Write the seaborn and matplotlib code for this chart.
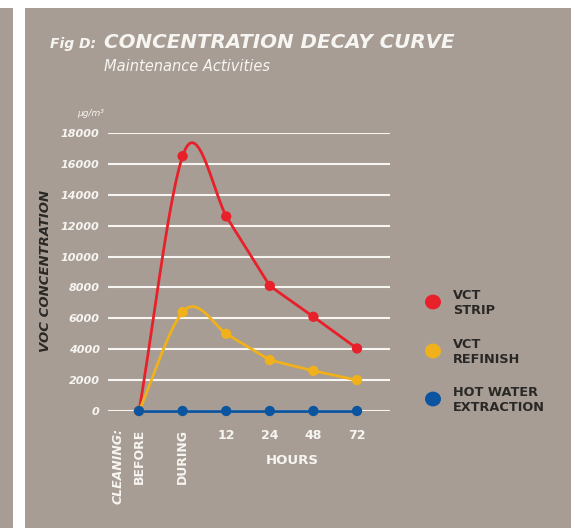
import numpy as np
import pandas as pd
import matplotlib
matplotlib.use("Agg")
import matplotlib.pyplot as plt
import seaborn as sns
from matplotlib.patches import Rectangle, Circle

stages = ['BEFORE', 'DURING', '12', '24', '48', '72']
vct_strip = [0, 16500, 12600, 8100, 6100, 4050]
vct_refinish = [0, 6400, 5000, 3300, 2600, 2000]
hot_water = [0, 0, 0, 0, 0, 0]
y_ticks = [0, 2000, 4000, 6000, 8000, 10000, 12000, 14000, 16000, 18000]
series_names = ['VCT\nSTRIP', 'VCT\nREFINISH', 'HOT WATER\nEXTRACTION']
colors = ['#e8202a', '#f0b11a', '#0b55a0']

bg = '#a79d94'
dark = '#2a2826'
light = '#f7f5f2'


def smooth_line(y, n_curved=2, tension=1.35, steps=60):
    # cardinal (Catmull-Rom like) curve for the first segments,
    # straight segments for the rest
    y = np.asarray(y, dtype=float)
    k = len(y)
    m = np.zeros(k)
    m[0] = y[1] - y[0]
    m[-1] = y[-1] - y[-2]
    for i in range(1, k - 1):
        m[i] = tension * (y[i + 1] - y[i - 1]) / 2
    t = np.linspace(0, 1, steps)
    h00 = (1 + 2 * t) * (1 - t) ** 2
    h10 = t * (1 - t) ** 2
    h01 = t ** 2 * (3 - 2 * t)
    h11 = t ** 2 * (t - 1)
    xs, ys = [], []
    for i in range(k - 1):
        if i < n_curved:
            xs.extend(i + t)
            ys.extend(h00 * y[i] + h10 * m[i] + h01 * y[i + 1] + h11 * m[i + 1])
        else:
            xs.extend([i, i + 1])
            ys.extend([y[i], y[i + 1]])
    return np.array(xs), np.array(ys)


sns.set_style("white")
plt.rcParams['font.family'] = ['DejaVu Sans']

fig = plt.figure(figsize=(5.71, 5.28), dpi=100)
fig.patch.set_facecolor('white')
fig.patches.append(Rectangle((0, 0), 13 / 571, 1 - 8 / 528, transform=fig.transFigure,
                             facecolor=bg, edgecolor='none', zorder=-5))
fig.patches.append(Rectangle((25 / 571, 0), 1, 1 - 8 / 528, transform=fig.transFigure,
                             facecolor=bg, edgecolor='none', zorder=-5))

ax = fig.add_axes([108 / 571, 1 - 411 / 528, 282 / 571, 278 / 528])
ax.set_facecolor('none')

x_pos = np.arange(len(stages))
for vals, col in zip([vct_strip, vct_refinish, hot_water], colors):
    xs, ys = smooth_line(vals)
    sns.lineplot(x=xs, y=ys, color=col, linewidth=2.0, ax=ax, zorder=3,
                 clip_on=False, estimator=None, sort=False)
    sns.scatterplot(x=x_pos, y=vals, color=col, s=55, edgecolor='none',
                    ax=ax, zorder=4, clip_on=False)

ax.set_xlim(-0.711, 5.757)
ax.set_ylim(0, 18000)
ax.set_yticks(y_ticks)
ax.set_yticklabels([str(v) for v in y_ticks], fontsize=8, fontweight='bold',
                   fontstyle='italic', color=light)
ax.yaxis.grid(True, color=light, linewidth=1.5)
ax.set_axisbelow(True)
ax.set_xticks(x_pos)
ax.set_xticklabels(stages, fontsize=9, fontweight='bold', color=light)
for lbl in ax.get_xticklabels()[:2]:
    lbl.set_rotation(90)
ax.tick_params(axis='x', length=0, pad=13)
ax.tick_params(axis='y', length=0, pad=6)
for s in ax.spines.values():
    s.set_visible(False)
ax.set_xlabel('')
ax.set_ylabel('')

# titles
fig.text(50 / 571, 1 - 48 / 528, 'Fig D:', fontsize=10, fontweight='bold',
         fontstyle='italic', color=light, va='baseline')
fig.text(104 / 571, 1 - 48 / 528, 'CONCENTRATION DECAY CURVE', fontsize=14.3,
         fontweight='bold', fontstyle='italic', color=light, va='baseline')
fig.text(104 / 571, 1 - 71 / 528, 'Maintenance Activities', fontsize=10.5,
         fontstyle='italic', color=light, va='baseline')
fig.text(104 / 571, 1 - 113 / 528, 'µg/m³', fontsize=6.5, fontstyle='italic',
         color=light, ha='right', va='center')

fig.text(46 / 571, 1 - 271 / 528, 'VOC CONCENTRATION', fontsize=9.5,
         fontweight='bold', fontstyle='italic', color=dark, rotation=90,
         ha='center', va='center')
fig.text(118 / 571, 1 - 428 / 528, 'CLEANING:', fontsize=9, fontweight='bold',
         fontstyle='italic', color=light, rotation=90, ha='center', va='top')
fig.text(292 / 571, 1 - 461 / 528, 'HOURS', fontsize=9.5, fontweight='bold',
         color=light, ha='center', va='center')

# legend
for i, (name, col) in enumerate(zip(series_names, colors)):
    cy = [302, 351, 399][i]
    fig.patches.append(Circle((433 / 571, 1 - cy / 528), 8 / 571,
                              transform=fig.transFigure, facecolor=col,
                              edgecolor='none'))
    fig.text(453 / 571, 1 - (cy + 1) / 528, name, fontsize=9.3, fontweight='bold',
             color=dark, ha='left', va='center', linespacing=1.25)

fig.savefig("out.png", dpi=100, facecolor=fig.get_facecolor())
